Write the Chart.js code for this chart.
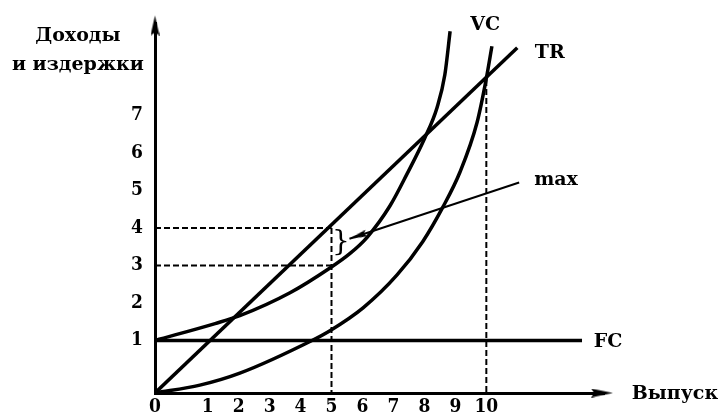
<!DOCTYPE html>
<html><head><meta charset="utf-8">
<script src="https://cdn.jsdelivr.net/npm/chart.js@4/dist/chart.umd.min.js"></script>
<style>html,body{margin:0;padding:0;background:#fff}canvas{display:block}</style>
</head><body>
<canvas id="c" width="720" height="420"></canvas>
<script>
// ---- tick labels ----
const xTickLabels = ['0','1','2','3','4','5','6','7','8','9','10'];
const xTickValues = [-0.7,1,2,3,4,5,6,7,8,9,10];
const yTickLabels = ['1','2','3','4','5','6','7'];
const yTickValues = [1,2,3,4,5,6,7];
const X_MIN = -0.7, X_MAX = 13.8, Y_MIN = -0.4, Y_MAX = 9.45;
const X_ARROW_TIP = 14.09, Y_ARROW_TIP = 9.66;

// ---- series ----
const trX = [-0.7, 11.0];
const trY = [-0.4, 8.8];
const tcX = [-0.7, 1.24, 2.04, 3.66, 4.95, 5.60, 6.15, 6.89, 7.44, 8.02, 8.41, 8.66, 8.83];
const tcY = [1.0, 1.45, 1.66, 2.27, 2.93, 3.32, 3.75, 4.59, 5.44, 6.41, 7.21, 8.08, 9.24];
const vcX = [-0.7, 0.75, 2.04, 4.37, 4.95, 6.02, 7.11, 7.95, 8.60, 9.15, 9.70, 9.99, 10.18];
const vcY = [-0.4, -0.19, 0.13, 1.0, 1.26, 1.87, 2.74, 3.64, 4.56, 5.49, 6.81, 7.94, 8.84];
const fcX = [-0.7, 13.09];
const fcY = [1, 1];
const maxX = [5.58, 11.06];
const maxY = [3.71, 5.21];
const h4X = [-0.7, 5], h4Y = [4, 4];
const h3X = [-0.7, 5], h3Y = [3, 3];
const v5X = [5, 5], v5Y = [4, Y_MIN];
const v10X = [10, 10], v10Y = [7.94, Y_MIN];

// ---- text labels ----
const labelTexts = ['VC', 'TR', 'max', 'FC', 'Выпуск', 'Доходы', 'и издержки'];
const labelX = [9.96, 12.05, 12.25, 13.93, 16.09, -3.19, -3.19];
const labelY = [9.40, 8.66, 5.28, 0.97, -0.43, 9.11, 8.34];
const braceX = 5.3, braceY = 3.61;

const zip = (xs, ys) => xs.map((x, i) => ({x, y: ys[i]}));

function arrowCanvas(len, wid) {
  const c = document.createElement('canvas');
  c.width = len * 2; c.height = wid;
  const g = c.getContext('2d');
  g.fillStyle = '#000';
  g.beginPath();
  g.moveTo(len, wid / 2);
  g.lineTo(0, 0);
  g.lineTo(len * 0.15, wid / 2);
  g.lineTo(0, wid);
  g.closePath();
  g.fill();
  return c;
}

const WORD_FONT = 'bold 19px "DejaVu Serif"';
const TICK_FONT = { family: '"DejaVu Serif Condensed", "DejaVu Serif"', weight: 'bold', size: 19 };
const curve = (data, w) => ({data, borderColor:'#000', borderWidth:w, pointRadius:0,
  tension:0.4, cubicInterpolationMode:'monotone', fill:false});
const straight = (data, w) => ({data, borderColor:'#000', borderWidth:w, pointRadius:0, tension:0, fill:false});
const dashed = (data) => ({data, borderColor:'#000', borderWidth:2, borderDash:[6,3], pointRadius:0, tension:0, fill:false});
const arrow = (pt, rot, len, wid) => ({data:[pt], showLine:false, pointStyle:arrowCanvas(len, wid),
  pointRadius:14, rotation:rot, clip:false, borderColor:'#000', backgroundColor:'#000'});

const textPlugin = {
  id: 'texts',
  beforeDraw(chart) {
    const ctx = chart.ctx; ctx.save(); ctx.fillStyle = '#fff';
    ctx.fillRect(0, 0, chart.width, chart.height); ctx.restore();
  },
  afterDraw(chart) {
    const ctx = chart.ctx, sx = chart.scales.x, sy = chart.scales.y;
    ctx.save();
    ctx.fillStyle = '#000'; ctx.textAlign = 'center'; ctx.textBaseline = 'middle';
    ctx.font = WORD_FONT;
    labelTexts.forEach((t, i) => ctx.fillText(t, sx.getPixelForValue(labelX[i]), sy.getPixelForValue(labelY[i])));
    ctx.font = '28px "DejaVu Serif"';
    ctx.fillText('}', sx.getPixelForValue(braceX), sy.getPixelForValue(braceY));
    ctx.restore();
  }
};

new Chart(document.getElementById('c'), {
  type: 'line',
  data: { datasets: [
    straight(zip(trX, trY), 3.5),
    curve(zip(tcX, tcY), 3.5),
    curve(zip(vcX, vcY), 3.5),
    straight(zip(fcX, fcY), 3.5),
    straight(zip(maxX, maxY), 2),
    dashed(zip(h4X, h4Y)),
    dashed(zip(h3X, h3Y)),
    dashed(zip(v5X, v5Y)),
    dashed(zip(v10X, v10Y)),
    arrow({x: X_ARROW_TIP, y: Y_MIN}, 0, 22, 9),
    arrow({x: X_MIN, y: Y_ARROW_TIP}, -90, 20, 9),
    arrow({x: maxX[0], y: maxY[0]}, 161.45, 18, 7)
  ]},
  options: {
    responsive: false, animation: false, events: [],
    layout: { padding: { left: 0, top: 20, right: 116, bottom: 0 } },
    plugins: { legend: { display: false }, tooltip: { enabled: false } },
    scales: {
      x: {
        type: 'linear', min: X_MIN, max: X_MAX,
        grid: { display: false, drawTicks: false },
        border: { display: true, color: '#000', width: 3 },
        afterBuildTicks: s => { s.ticks = xTickValues.map(v => ({value: v})); },
        afterFit: s => { s.height = 27; },
        ticks: { autoSkip: false, maxRotation: 0, padding: 3, color: '#000',
          font: TICK_FONT, callback: (v, i) => xTickLabels[i] }
      },
      y: {
        type: 'linear', min: Y_MIN, max: Y_MAX,
        grid: { display: false, drawTicks: false },
        border: { display: true, color: '#000', width: 3 },
        afterBuildTicks: s => { s.ticks = yTickValues.map(v => ({value: v})); },
        afterFit: s => { s.width = 155; },
        ticks: { autoSkip: false, padding: 12, color: '#000',
          font: TICK_FONT, callback: (v, i) => yTickLabels[i] }
      }
    }
  },
  plugins: [textPlugin]
});
</script>
</body></html>
